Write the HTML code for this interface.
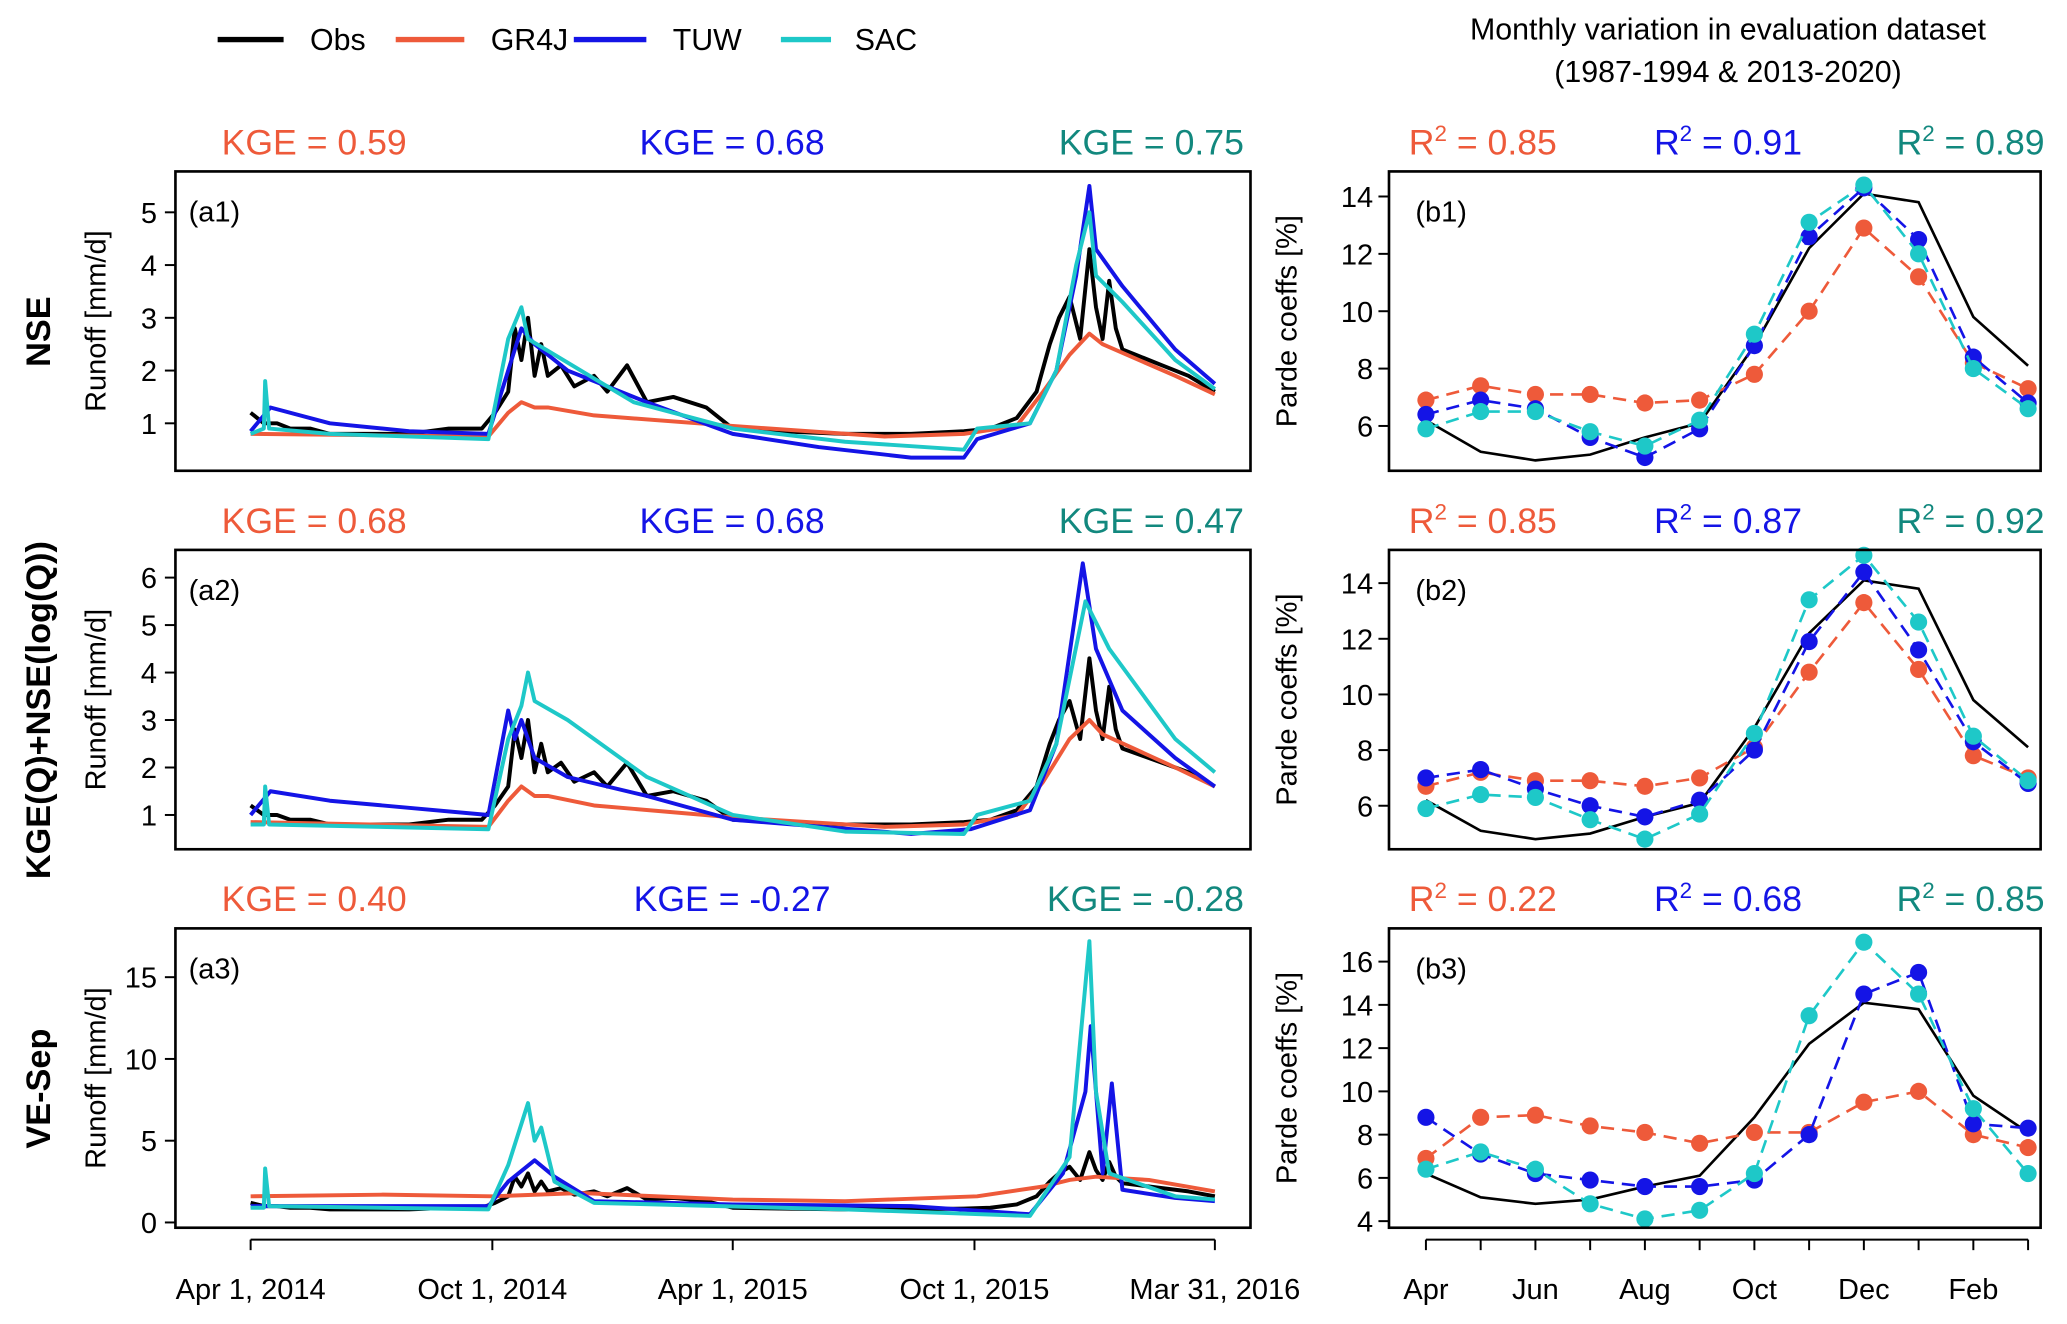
<!DOCTYPE html>
<html><head><meta charset="utf-8"><style>
html,body{margin:0;padding:0;background:#fff}
svg{display:block}
text{font-family:"Liberation Sans",Arial,sans-serif}
</style></head><body>
<svg id="c" width="2067" height="1324" viewBox="0 0 1567 1004" preserveAspectRatio="none" xmlns="http://www.w3.org/2000/svg"></svg>
<script>
const monthLabels=["Apr","Jun","Aug","Oct","Dec","Feb"];
const dateLabels=["Apr 1, 2014","Oct 1, 2014","Apr 1, 2015","Oct 1, 2015","Mar 31, 2016"];
const dateDays=[0,183,365,548,730];
const obsDays=[0,10,20,30,45,60,90,120,150,175,185,195,200,205,210,215,220,225,235,245,260,270,285,300,320,345,365,400,450,500,540,560,580,595,605,612,620,628,635,640,645,650,655,660,670,690,710,730];
const obsVals=[1.2,1.0,1.0,0.9,0.9,0.8,0.8,0.8,0.9,0.9,1.2,1.6,2.8,2.2,3.0,1.9,2.5,1.9,2.1,1.7,1.9,1.6,2.1,1.4,1.5,1.3,0.9,0.85,0.8,0.8,0.85,0.9,1.1,1.6,2.5,3.0,3.4,2.6,4.3,3.2,2.6,3.7,2.8,2.4,2.3,2.1,1.9,1.6];
const gr1Days=[0,180,195,205,215,225,260,365,480,540,580,600,620,635,645,700,730];
const gr1Vals=[0.8,0.75,1.2,1.4,1.3,1.3,1.15,0.95,0.75,0.8,0.95,1.6,2.3,2.7,2.5,1.9,1.55];
const tuw1Days=[0,15,60,120,180,195,205,215,240,300,365,430,500,540,550,590,610,625,635,640,660,700,730];
const tuw1Vals=[0.85,1.3,1.0,0.85,0.8,2.0,2.8,2.5,2.0,1.4,0.8,0.55,0.35,0.35,0.7,1.0,2.0,3.8,5.5,4.3,3.6,2.4,1.75];
const sac1Days=[0,10,11,14,60,180,195,205,210,230,290,365,450,540,550,590,610,625,635,640,660,700,730];
const sac1Vals=[0.8,0.9,1.8,0.9,0.8,0.7,2.6,3.2,2.6,2.3,1.4,0.9,0.65,0.5,0.9,1.0,2.0,4.0,5.0,3.8,3.3,2.2,1.65];
const gr2Days=[0,180,195,205,215,225,260,365,480,540,580,600,620,635,645,700,730];
const gr2Vals=[0.85,0.75,1.3,1.6,1.4,1.4,1.2,0.95,0.75,0.8,1.0,1.7,2.6,3.0,2.7,2.0,1.6];
const tuw2Days=[0,15,60,180,195,200,205,215,240,300,365,500,545,590,610,630,640,660,700,730];
const tuw2Vals=[1.0,1.5,1.3,1.0,3.2,2.6,3.0,2.2,1.8,1.4,0.9,0.6,0.7,1.1,2.5,6.3,4.5,3.2,2.2,1.6];
const sac2Days=[0,10,11,14,180,195,205,210,215,240,300,365,450,540,550,590,610,632,650,700,730];
const sac2Vals=[0.8,0.8,1.6,0.8,0.7,2.6,3.3,4.0,3.4,3.0,1.8,1.0,0.65,0.6,1.0,1.3,2.5,5.5,4.5,2.6,1.9];
const gr3Days=[0,100,183,250,365,450,550,600,620,640,680,730];
const gr3Vals=[1.6,1.7,1.6,1.8,1.4,1.3,1.6,2.2,2.6,2.8,2.6,1.9];
const tuw3Days=[0,180,195,215,230,260,365,500,590,615,632,636,645,652,660,700,730];
const tuw3Vals=[1.0,1.0,2.5,3.8,2.8,1.3,1.1,1.0,0.5,3.0,8.0,12.0,3.0,8.5,2.0,1.5,1.3];
const sac3Days=[0,10,11,14,180,195,210,215,220,230,260,450,590,620,635,640,650,700,730];
const sac3Vals=[0.9,0.9,3.3,1.0,0.8,3.5,7.3,5.0,5.8,2.5,1.2,0.8,0.4,4.0,17.2,8.0,3.0,1.6,1.4];
const obsMon=[6.2,5.1,4.8,5.0,5.6,6.1,8.8,12.2,14.1,13.8,9.8,8.1];
const grB1=[6.9,7.4,7.1,7.1,6.8,6.9,7.8,10.0,12.9,11.2,8.2,7.3];
const tuwB1=[6.4,6.9,6.6,5.6,4.9,5.9,8.8,12.6,14.3,12.5,8.4,6.8];
const sacB1=[5.9,6.5,6.5,5.8,5.3,6.2,9.2,13.1,14.4,12.0,8.0,6.6];
const grB2=[6.7,7.2,6.9,6.9,6.7,7.0,8.1,10.8,13.3,10.9,7.8,7.0];
const tuwB2=[7.0,7.3,6.6,6.0,5.6,6.2,8.0,11.9,14.4,11.6,8.3,6.8];
const sacB2=[5.9,6.4,6.3,5.5,4.8,5.7,8.6,13.4,15.0,12.6,8.5,6.9];
const grB3=[6.9,8.8,8.9,8.4,8.1,7.6,8.1,8.1,9.5,10.0,8.0,7.4];
const tuwB3=[8.8,7.1,6.2,5.9,5.6,5.6,5.9,8.0,14.5,15.5,8.5,8.3];
const sacB3=[6.4,7.2,6.4,4.8,4.1,4.5,6.2,13.5,16.9,14.5,9.2,6.2];
const kgeVals=[["0.59","0.68","0.75"],["0.68","0.68","0.47"],["0.40","-0.27","-0.28"]];
const r2Vals=[["0.85","0.91","0.89"],["0.85","0.87","0.92"],["0.22","0.68","0.85"]];

const C={obs:"#000",gr:"#ee5a3a",tuw:"#1414e6",sac:"#1ec8c8",sacT:"#12887e"};
const svg=document.getElementById('c');const NS="http://www.w3.org/2000/svg";
function mk(t,a,p){const e=document.createElementNS(NS,t);for(const k in a)e.setAttribute(k,a[k]);(p||svg).appendChild(e);return e;}
function txt(x,y,s,sz,anc,fill,name){const e=mk('text',{x:x,y:y,'font-size':sz,'text-anchor':anc||'start'});e.style.fill=fill||'#000';e.textContent=s;


return e;}
const leg=[["Obs",C.obs,165,215,235],["GR4J",C.gr,300,352,372],["TUW",C.tuw,435,490,510],["SAC",C.sac,592,630,648]];
leg.forEach(l=>{const ln=mk('line',{x1:l[2],x2:l[3],y1:30,y2:30,stroke:l[1],'stroke-width':4});


txt(l[4],38,l[0],23,'start','#000','legend-entry-'+l[0].toLowerCase());});
txt(1310,30,"Monthly variation in evaluation dataset",23,'middle','#000','right-title-line1');
txt(1310,62,"(1987-1994 & 2013-2020)",23,'middle','#000','right-title-line2');

const tops=[130,417,704],H=227;
const LX0=133,LX1=948,RX0=1053,RX1=1547;
const xd=d=>190+d*(731/730);
const xm=i=>1081+i*41.5;
const lScales=[{v0:1,y0:321,k:40,ticks:[1,2,3,4,5]},{v0:1,y0:618,k:36,ticks:[1,2,3,4,5,6]},{v0:0,y0:927,k:12.4,ticks:[0,5,10,15]}];
const rScales=[{v0:6,y0:323,k:21.75,ticks:[6,8,10,12,14]},{v0:6,y0:611,k:21.1,ticks:[6,8,10,12,14]},{v0:4,y0:926,k:16.4,ticks:[4,6,8,10,12,14,16]}];
const rowNames=["NSE","KGE(Q)+NSE(log(Q))","VE-Sep"];
const series=[[[gr1Days,gr1Vals],[tuw1Days,tuw1Vals],[sac1Days,sac1Vals]],[[gr2Days,gr2Vals],[tuw2Days,tuw2Vals],[sac2Days,sac2Vals]],[[gr3Days,gr3Vals],[tuw3Days,tuw3Vals],[sac3Days,sac3Vals]]];
const monthly=[[grB1,tuwB1,sacB1],[grB2,tuwB2,sacB2],[grB3,tuwB3,sacB3]];
const cols=[C.gr,C.tuw,C.sac],names=["gr4j","tuw","sac"];
for(let r=0;r<3;r++){
 const T=tops[r],S=lScales[r],R=rScales[r];
 const yl=v=>S.y0-(v-S.v0)*S.k, yr=v=>R.y0-(v-R.v0)*R.k;
 const rt=txt(30,T+H/2,rowNames[r],26,'middle','#000','row-title-'+(r+1));rt.setAttribute('font-weight','bold');rt.setAttribute('transform',`rotate(-90 38 ${T+H/2})`);
 const ya=txt(80,T+H/2,"Runoff [mm/d]",22,'middle','#000','y-axis-title-a'+(r+1));ya.setAttribute('transform',`rotate(-90 80 ${T+H/2})`);
 const yb=txt(983,T+H/2,"Parde coeffs [%]",22,'middle','#000','y-axis-title-b'+(r+1));yb.setAttribute('transform',`rotate(-90 983 ${T+H/2})`);
 const kx=[[168,'start'],[555,'middle'],[943,'end']];
 for(let i=0;i<3;i++){txt(kx[i][0],T-13,"KGE = "+kgeVals[r][i],27,kx[i][1],i==2?C.sacT:cols[i],'kge-label-'+names[i]+'-'+(r+1));}
 const rx=[[1068,'start'],[1310,'middle'],[1550,'end']];
 for(let i=0;i<3;i++){const t=mk('text',{x:rx[i][0],y:T-13,'font-size':27,'text-anchor':rx[i][1]});
 t.style.fill=i==2?C.sacT:cols[i];
 
 
 t.innerHTML=`R<tspan dy="-10" font-size="17">2</tspan><tspan dy="10"> = ${r2Vals[r][i]}</tspan>`;}
 S.ticks.forEach(v=>{mk('line',{x1:LX0-8,x2:LX0,y1:yl(v),y2:yl(v),stroke:'#000','stroke-width':1.5});txt(LX0-14,yl(v)+8,String(v),22,'end','#000','y-tick-a'+(r+1)+'-'+v);});
 R.ticks.forEach(v=>{mk('line',{x1:RX0-8,x2:RX0,y1:yr(v),y2:yr(v),stroke:'#000','stroke-width':1.5});txt(RX0-12,yr(v)+8,String(v),22,'end','#000','y-tick-b'+(r+1)+'-'+v);});
 const cp=mk('clipPath',{id:'cl'+r});mk('rect',{x:LX0,y:T,width:LX1-LX0,height:H},cp);
 const g=mk('g',{'clip-path':`url(#cl${r})`});
 const drawL=(days,vals,col,nm)=>{const p=mk('polyline',{points:days.map((d,i)=>xd(d)+','+yl(vals[i])).join(' '),fill:'none',stroke:col,'stroke-width':3,'stroke-linejoin':'round'},g);
  
  };
 drawL(obsDays,obsVals,C.obs,'obs-line-a'+(r+1));
 for(let i=0;i<3;i++)drawL(series[r][i][0],series[r][i][1],cols[i],names[i]+'-line-a'+(r+1));
 const gr=mk('g',{});
 const ob=mk('polyline',{points:obsMon.map((v,i)=>xm(i)+','+yr(v)).join(' '),fill:'none',stroke:'#000','stroke-width':2},gr);
 
 
 for(let i=0;i<3;i++){const vs=monthly[r][i];
  const pl=mk('polyline',{points:vs.map((v,j)=>xm(j)+','+yr(v)).join(' '),fill:'none',stroke:cols[i],'stroke-width':2,'stroke-dasharray':'10,6'},gr);
  
  
  vs.forEach((v,j)=>{const c=mk('circle',{cx:xm(j),cy:yr(v),r:6.5,fill:cols[i]},gr);
   
   });}
 const b1=mk('rect',{x:LX0,y:T,width:LX1-LX0,height:H,fill:'none',stroke:'#000','stroke-width':2});
 
 
 const b2=mk('rect',{x:RX0,y:T,width:RX1-RX0,height:H,fill:'none',stroke:'#000','stroke-width':2});
 
 
 txt(LX0+10,T+38,`(a${r+1})`,22,'start','#000','panel-label-a'+(r+1));
 txt(RX0+20,T+38,`(b${r+1})`,22,'start','#000','panel-label-b'+(r+1));
}
mk('line',{x1:xd(0),x2:xd(730),y1:940,y2:940,stroke:'#000','stroke-width':1.5});
dateDays.forEach((d,i)=>{mk('line',{x1:xd(d),x2:xd(d),y1:940,y2:948,stroke:'#000','stroke-width':1.5});txt(xd(d),985,dateLabels[i],22,'middle','#000','x-tick-date-'+i);});
mk('line',{x1:xm(0),x2:xm(11),y1:940,y2:940,stroke:'#000','stroke-width':1.5});
for(let i=0;i<12;i++)mk('line',{x1:xm(i),x2:xm(i),y1:940,y2:948,stroke:'#000','stroke-width':1.5});
monthLabels.forEach((m,i)=>txt(xm(i*2),985,m,22,'middle','#000','x-tick-month-'+m.toLowerCase()));
</script>
</body></html>
